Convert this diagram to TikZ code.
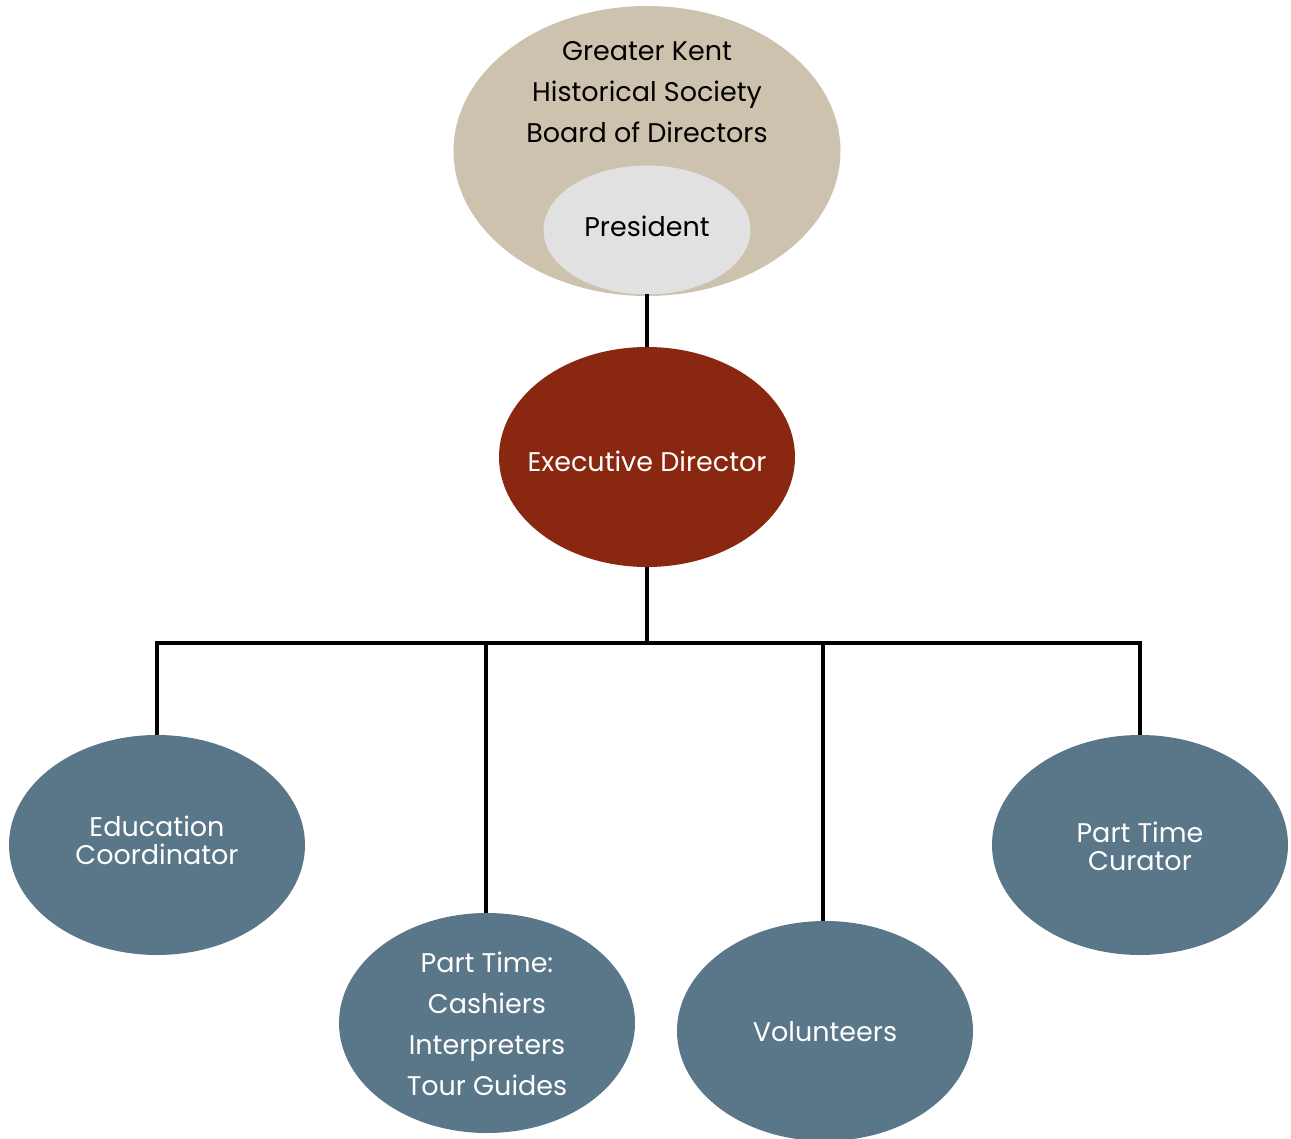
\documentclass[tikz,border=0pt]{standalone}
\usepackage{fontspec}
\setmainfont{Poppins}
\usetikzlibrary{shapes.geometric}
\definecolor{tan}{HTML}{CDC2AE}
\definecolor{lgrey}{HTML}{E1E1E1}
\definecolor{rust}{HTML}{8A2711}
\definecolor{slate}{HTML}{5A778A}
\tikzset{
  oval/.style={ellipse, inner sep=0pt, outer sep=0pt},
  conn/.style={line width=3.8pt, black},
  lbl/.style={font=\fontsize{27}{41}\selectfont, align=center, inner sep=0pt},
  tight/.style={font=\fontsize{27}{28}\selectfont},
}
\begin{document}
\begin{tikzpicture}[x=1pt,y=-1pt]
\useasboundingbox (0,0) rectangle (1291,1139);
% shapes
\node[oval, fill=tan, minimum width=387pt, minimum height=290pt] (board) at (647,151) {};
\node[oval, fill=lgrey, minimum width=207pt, minimum height=129pt] (pres) at (647,230) {};
\node[oval, fill=rust, minimum width=296pt, minimum height=220pt] (exec) at (647,457) {};
\node[oval, fill=slate, minimum width=296pt, minimum height=220pt] (edu) at (157,845) {};
\node[oval, fill=slate, minimum width=296pt, minimum height=220pt] (pt) at (487,1023) {};
\node[oval, fill=slate, minimum width=296pt, minimum height=220pt] (vol) at (825,1031) {};
\node[oval, fill=slate, minimum width=296pt, minimum height=220pt] (cur) at (1140,845) {};
% labels
\node[lbl] (boardtxt) at (647,92) {Greater Kent\\Historical Society\\Board of Directors};
\node[lbl] (prestxt) at (647,226) {President};
\node[lbl, text=white] (exectxt) at (647,461) {Executive Director};
\node[lbl, text=white, tight] (edutxt) at (157,840) {Education\\Coordinator};
\node[lbl, text=white] (pttxt) at (487,1024) {Part Time:\\Cashiers\\Interpreters\\Tour Guides};
\node[lbl, text=white] (voltxt) at (825,1032) {Volunteers};
\node[lbl, text=white, tight] (curtxt) at (1140,846) {Part Time\\Curator};
% connectors
\coordinate (bus) at (647,643);
\coordinate (busL) at (157,643);
\coordinate (busR) at (1140,643);
\coordinate (busPT) at (486,643);
\coordinate (busV) at (823,643);
\draw[conn] (pres.south) -- (exec.north);
\draw[conn] (exec.south) -- (bus);
\draw[conn, line cap=rect] (busL) -- (busR);
\draw[conn] (busL) -- (edu.north);
\draw[conn] (busR) -- (cur.north);
\draw[conn] (busPT) -- (busPT |- pt.north);
\draw[conn] (busV) -- (busV |- vol.north);
\end{tikzpicture}
\end{document}
